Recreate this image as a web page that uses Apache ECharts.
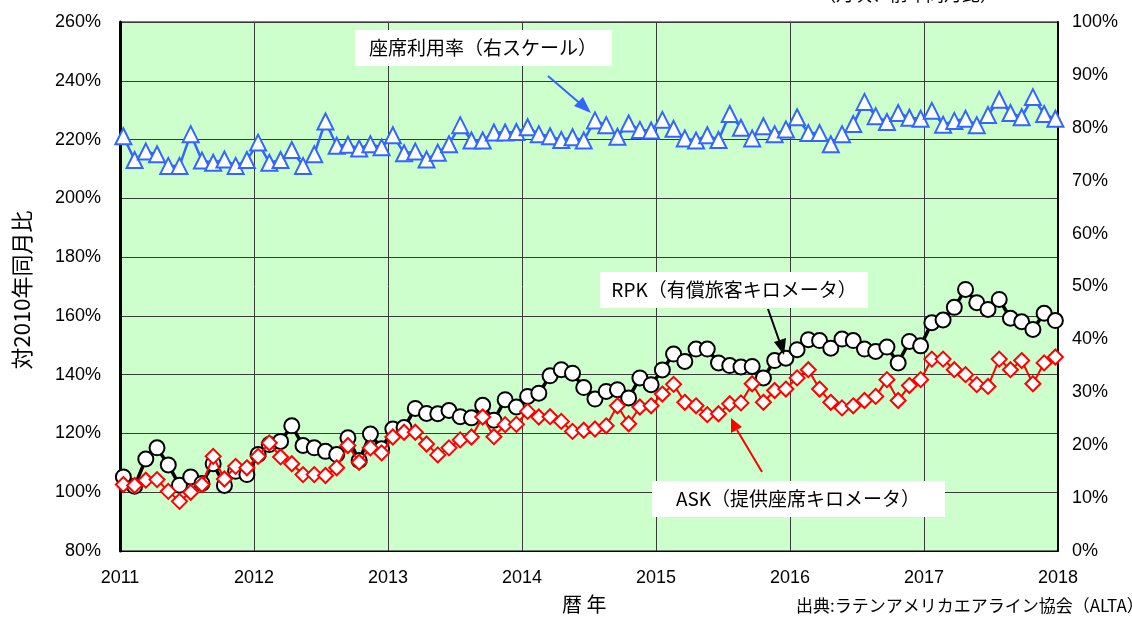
<!DOCTYPE html>
<html>
<head>
<meta charset="utf-8">
<script src="https://cdn.jsdelivr.net/npm/echarts@6/dist/echarts.min.js"></script>
<style>
  html, body { margin: 0; padding: 0; background: #fff; }
  #chart { width: 1132px; height: 619px; }
</style>
</head>
<body>
<div id="chart"></div>
<script>
// monthly values, Jan 2011 .. Dec 2017
const years = [2011, 2012, 2013, 2014, 2015, 2016, 2017, 2018];

const rpk = [
  105.2, 102.0, 111.3, 115.1, 109.3, 102.4, 105.2, 103.0, 109.7, 102.3, 107.1, 106.0,
  112.8, 116.2, 117.3, 122.6, 115.9, 115.1, 113.9, 112.8, 118.5, 110.8, 119.8, 114.8,
  121.5, 122.0, 128.5, 126.8, 126.7, 127.8, 125.7, 125.3, 129.6, 124.5, 131.5, 129.0,
  132.6, 133.7, 139.6, 141.7, 140.5, 135.6, 131.7, 134.3, 134.9, 132.1, 138.9, 136.6,
  141.6, 147.0, 144.5, 148.7, 148.7, 144.0, 143.1, 142.6, 142.8, 138.9, 144.8, 145.6,
  148.5, 151.9, 151.6, 149.0, 152.1, 151.6, 148.7, 147.9, 149.4, 144.0, 151.3, 149.8,
  157.7, 158.6, 162.9, 169.0, 164.5, 162.2, 165.6, 159.2, 158.0, 155.4, 160.9, 158.4
];

const ask = [
  102.6, 102.3, 104.1, 104.3, 100.3, 96.9, 100.0, 102.6, 112.2, 104.5, 108.8, 108.3,
  112.2, 116.8, 112.0, 109.7, 106.0, 106.0, 105.7, 108.3, 115.9, 110.2, 115.1, 113.4,
  118.8, 120.4, 120.4, 116.4, 112.7, 115.1, 117.8, 118.8, 125.6, 118.9, 123.0, 123.1,
  127.5, 125.6, 125.7, 124.1, 120.7, 121.1, 121.5, 122.6, 129.4, 123.3, 129.0, 129.4,
  133.4, 136.7, 130.6, 129.4, 126.4, 126.7, 130.1, 130.4, 136.9, 130.6, 134.6, 135.1,
  138.9, 141.7, 135.1, 130.6, 128.7, 129.4, 131.2, 132.6, 138.3, 131.2, 136.3, 138.3,
  145.3, 145.3, 141.7, 140.0, 136.6, 136.0, 145.3, 141.7, 144.8, 136.9, 144.0, 146.0
];

const loadFactor = [
  78.4, 73.9, 75.5, 75.0, 72.8, 72.8, 78.8, 73.8, 73.4, 74.0, 72.8, 73.9,
  77.2, 73.4, 73.9, 75.8, 72.8, 75.0, 81.2, 76.6, 76.8, 76.1, 76.9, 76.3,
  78.6, 75.2, 75.5, 74.0, 75.3, 76.9, 80.5, 77.6, 77.6, 79.1, 79.1, 79.2,
  80.1, 78.8, 78.4, 77.7, 78.2, 77.6, 81.4, 80.5, 78.3, 80.8, 79.6, 79.5,
  81.5, 79.8, 78.0, 77.6, 78.6, 77.7, 82.6, 80.0, 78.0, 80.3, 78.8, 79.7,
  82.0, 79.0, 79.0, 76.9, 78.8, 80.7, 84.9, 82.2, 81.1, 82.8, 81.9, 81.7,
  83.2, 80.6, 81.3, 81.7, 80.5, 82.4, 85.3, 82.8, 82.0, 85.8, 82.6, 81.7
];

const leftTicks = { min: 80, max: 260, step: 20 };
const rightTicks = { min: 0, max: 100, step: 10 };

// month index -> position on the year axis
const xOf = i => 2011 + 0.025 + i * 0.0838;
const toPairs = arr => arr.map((v, i) => [xOf(i), v]);

const chart = echarts.init(document.getElementById('chart'));

const numFont = 'Liberation Sans, Arial, sans-serif';
const jpFont = 'Noto Sans CJK JP, sans-serif';

const option = {
  backgroundColor: '#ffffff',
  animation: false,
  grid: {
    left: 120,
    right: 74,
    top: 22,
    bottom: 68,
    show: true,
    backgroundColor: '#ccffcc',
    borderColor: '#000',
    borderWidth: 1
  },
  xAxis: {
    type: 'value',
    min: years[0],
    max: years[years.length - 1],
    interval: 1,
    axisLine: { lineStyle: { color: '#000', width: 1 } },
    axisTick: { show: false },
    axisLabel: {
      color: '#000',
      fontSize: 18,
      fontFamily: numFont,
      margin: 18,
      formatter: v => String(v)
    },
    splitLine: { lineStyle: { color: '#3a3a3a', width: 1 } }
  },
  yAxis: [
    {
      type: 'value',
      min: leftTicks.min,
      max: leftTicks.max,
      interval: leftTicks.step,
      axisLine: { show: true, lineStyle: { color: '#000', width: 3 } },
      axisTick: { show: false },
      axisLabel: {
        color: '#000',
        fontSize: 18,
        fontFamily: numFont,
        margin: 19,
        formatter: '{value}%'
      },
      splitLine: { lineStyle: { color: '#3a3a3a', width: 1 } }
    },
    {
      type: 'value',
      min: rightTicks.min,
      max: rightTicks.max,
      interval: rightTicks.step,
      position: 'right',
      axisLine: { show: true, lineStyle: { color: '#000', width: 2 } },
      axisTick: { show: false },
      axisLabel: {
        color: '#000',
        fontSize: 18,
        fontFamily: numFont,
        margin: 14,
        formatter: '{value}%'
      },
      splitLine: { show: false }
    }
  ],
  series: [
    {
      name: 'RPK',
      type: 'line',
      yAxisIndex: 0,
      data: toPairs(rpk),
      symbol: 'circle',
      symbolSize: 15,
      lineStyle: { color: '#000', width: 3.5 },
      itemStyle: { color: '#fff', borderColor: '#000', borderWidth: 2 },
      z: 2
    },
    {
      name: 'ASK',
      type: 'line',
      yAxisIndex: 0,
      data: toPairs(ask),
      symbol: 'diamond',
      symbolSize: 15,
      lineStyle: { color: '#ff0000', width: 2 },
      itemStyle: { color: '#fff', borderColor: '#ff0000', borderWidth: 2 },
      z: 3
    },
    {
      name: '座席利用率',
      type: 'line',
      yAxisIndex: 1,
      data: toPairs(loadFactor),
      symbol: 'triangle',
      symbolSize: 16,
      lineStyle: { color: '#3366ff', width: 2.5 },
      itemStyle: { color: '#fff', borderColor: '#3366ff', borderWidth: 2 },
      z: 4
    }
  ],
  graphic: [
    // left axis title, reads bottom to top
    {
      type: 'text', x: 22, y: 290, rotation: Math.PI / 2,
      style: { text: '対2010年同月比', font: '22px ' + jpFont, fill: '#000', align: 'center', verticalAlign: 'middle' }
    },
    { type: 'text', left: 562, top: 594, style: { text: '暦 年', font: '20px ' + jpFont, fill: '#000' } },
    { type: 'text', left: 796, top: 597, style: { text: '出典:ラテンアメリカエアライン協会（ALTA）', font: '17px ' + jpFont, fill: '#000' } },
    { type: 'text', left: 818, top: -15, style: { text: '（月次、前年同月比）', font: '18px ' + jpFont, fill: '#000' } },

    // load factor label
    { type: 'rect', shape: { x: 355, y: 30, width: 257, height: 36 }, style: { fill: '#fff' }, z: 10 },
    { type: 'text', x: 483, y: 48, style: { text: '座席利用率（右スケール）', font: '19px ' + jpFont, fill: '#000', align: 'center', verticalAlign: 'middle' }, z: 11 },
    { type: 'line', shape: { x1: 548, y1: 76, x2: 583, y2: 106 }, style: { stroke: '#3366ff', lineWidth: 2 }, z: 10 },
    { type: 'polygon', shape: { points: [[591, 113], [574, 106], [583, 97]] }, style: { fill: '#3366ff' }, z: 10 },

    // RPK label
    { type: 'rect', shape: { x: 600, y: 272, width: 268, height: 36 }, style: { fill: '#fff' }, z: 10 },
    { type: 'text', x: 734, y: 290, style: { text: 'RPK（有償旅客キロメータ）', font: '19px ' + jpFont, fill: '#000', align: 'center', verticalAlign: 'middle' }, z: 11 },
    { type: 'line', shape: { x1: 768, y1: 309, x2: 780, y2: 343 }, style: { stroke: '#000', lineWidth: 2 }, z: 10 },
    { type: 'polygon', shape: { points: [[784, 355], [774, 342], [786, 338]] }, style: { fill: '#000' }, z: 10 },

    // ASK label
    { type: 'rect', shape: { x: 652, y: 481, width: 293, height: 36 }, style: { fill: '#fff' }, z: 10 },
    { type: 'text', x: 798, y: 499, style: { text: 'ASK（提供座席キロメータ）', font: '19px ' + jpFont, fill: '#000', align: 'center', verticalAlign: 'middle' }, z: 11 },
    { type: 'line', shape: { x1: 762, y1: 472, x2: 737, y2: 430 }, style: { stroke: '#ff0000', lineWidth: 2 }, z: 10 },
    { type: 'polygon', shape: { points: [[731, 418], [731, 433], [742, 427]] }, style: { fill: '#ff0000' }, z: 10 }
  ]
};

chart.setOption(option);

window.addEventListener('resize', () => {
  chart.resize();
});
</script>
</body>
</html>
